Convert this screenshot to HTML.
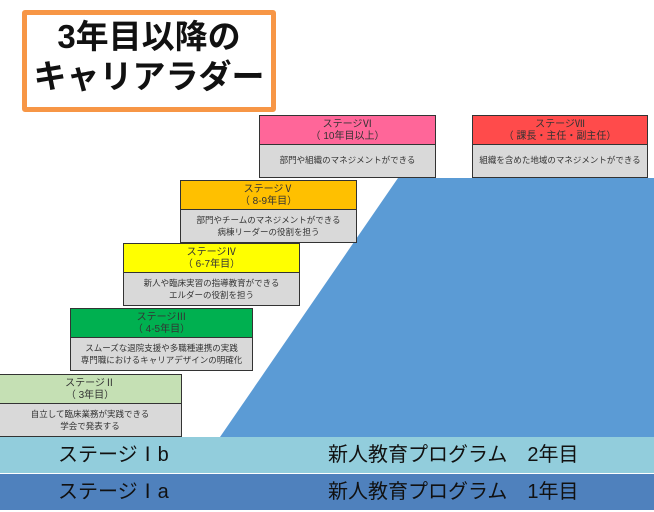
<!DOCTYPE html>
<html><head><meta charset="utf-8"><style>
body{margin:0;width:654px;height:512px;position:relative;background:#fff;overflow:hidden;font-family:"Liberation Sans","Noto Sans CJK JP",sans-serif}
.t{position:absolute;left:22px;top:10px;width:244px;height:90px;border:5px solid #f79646;border-radius:3px;text-align:center;font-weight:bold;font-size:33px;line-height:40px;padding-top:2px;color:#111}
.box{position:absolute;border:1.5px solid #333;background:#d9d9d9;box-sizing:border-box;font-size:8.5px;color:#333;text-align:center}
.h{height:29px;border-bottom:1.5px solid #333;box-sizing:border-box;line-height:12px;padding-top:3px;font-size:10px}
.b{line-height:12px;padding-top:4px}
.band{position:absolute;left:0;width:654px;height:36px;font-size:20px;line-height:36px;color:#111}
.band span{position:absolute}
</style></head><body>
<div class="t">3年目以降の<br>キャリアラダー</div>
<svg style="position:absolute;left:0;top:0" width="654" height="512"><polygon points="398,178 654,178 654,437 220,437" fill="#5b9bd5"/></svg>
<div class="box" style="left:259px;top:115px;width:177px;height:63px"><div class="h" style="background:#ff6699">ステージⅥ<br>（ 10年目以上）</div><div class="b" style="padding-top:9px">部門や組織のマネジメントができる</div></div>
<div class="box" style="left:472px;top:115px;width:176px;height:63px"><div class="h" style="background:#ff4b4b">ステージⅦ<br>（ 課長・主任・副主任）</div><div class="b" style="padding-top:9px">組織を含めた地域のマネジメントができる</div></div>
<div class="box" style="left:180px;top:180px;width:177px;height:63px"><div class="h" style="background:#ffc000">ステージⅤ<br>（ 8-9年目）</div><div class="b">部門やチームのマネジメントができる<br>病棟リーダーの役割を担う</div></div>
<div class="box" style="left:123px;top:243px;width:177px;height:63px"><div class="h" style="background:#ffff00">ステージⅣ<br>（ 6-7年目）</div><div class="b">新人や臨床実習の指導教育ができる<br>エルダーの役割を担う</div></div>
<div class="box" style="left:70px;top:308px;width:183px;height:63px"><div class="h" style="background:#00b050">ステージⅢ<br>（ 4-5年目）</div><div class="b">スムーズな退院支援や多職種連携の実践<br>専門職におけるキャリアデザインの明確化</div></div>
<div class="box" style="left:-2px;top:374px;width:184px;height:63px"><div class="h" style="background:#c5e0b4">ステージⅡ<br>（ 3年目）</div><div class="b">自立して臨床業務が実践できる<br>学会で発表する</div></div>
<div class="band" style="top:437px;background:#92cddc"><span style="left:58px">ステージⅠb</span><span style="left:328px">新人教育プログラム　2年目</span></div>
<div class="band" style="top:474px;background:#4f81bd"><span style="left:58px">ステージⅠa</span><span style="left:328px">新人教育プログラム　1年目</span></div>
</body></html>
